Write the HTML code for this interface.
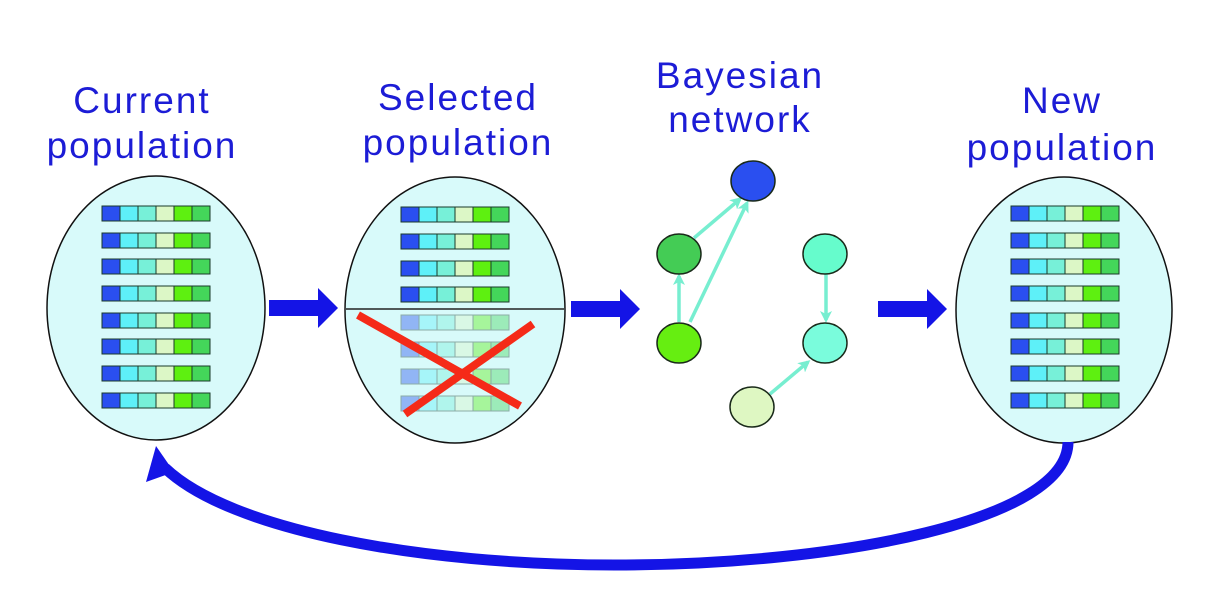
<!DOCTYPE html>
<html><head><meta charset="utf-8"><style>
html,body{margin:0;padding:0;background:#fff;}
svg{display:block}
text{font-family:"Liberation Sans",sans-serif;font-size:37px;fill:#1c1cd6;letter-spacing:2px;text-anchor:middle}
</style></head><body>
<svg width="1218" height="610" viewBox="0 0 1218 610" xmlns="http://www.w3.org/2000/svg">
<defs>
<g id="row">
<rect x="0" y="0" width="18" height="15" fill="#2a4ff0" stroke="#1a3a2a" stroke-width="1"/>
<rect x="18" y="0" width="18" height="15" fill="#5ef0f8" stroke="#1a3a2a" stroke-width="1"/>
<rect x="36" y="0" width="18" height="15" fill="#77f0d8" stroke="#1a3a2a" stroke-width="1"/>
<rect x="54" y="0" width="18" height="15" fill="#dcf7c6" stroke="#1a3a2a" stroke-width="1"/>
<rect x="72" y="0" width="18" height="15" fill="#5ef010" stroke="#1a3a2a" stroke-width="1"/>
<rect x="90" y="0" width="18" height="15" fill="#44d65a" stroke="#1a3a2a" stroke-width="1"/>
</g>
<marker id="ah" markerWidth="12" markerHeight="12" refX="9" refY="6" orient="auto" markerUnits="userSpaceOnUse"><path d="M0,0 L12,6 L0,12 L3,6 Z" fill="#77eed0"/></marker>
</defs>

<text x="142" y="113">Current</text>
<text x="142" y="158">population</text>
<text x="458" y="110">Selected</text>
<text x="458" y="155">population</text>
<text x="740" y="88">Bayesian</text>
<text x="740" y="132">network</text>
<text x="1062" y="113">New</text>
<text x="1062" y="160">population</text>

<ellipse cx="156" cy="308" rx="109" ry="132" fill="#d8fafa" stroke="#111" stroke-width="1.5"/>
<use href="#row" x="102" y="206"/><use href="#row" x="102" y="233"/><use href="#row" x="102" y="259"/><use href="#row" x="102" y="286"/>
<use href="#row" x="102" y="313"/><use href="#row" x="102" y="339"/><use href="#row" x="102" y="366"/><use href="#row" x="102" y="393"/>

<ellipse cx="455" cy="310" rx="110" ry="133" fill="#d8fafa" stroke="#111" stroke-width="1.5"/>
<use href="#row" x="401" y="207"/><use href="#row" x="401" y="234"/><use href="#row" x="401" y="261"/><use href="#row" x="401" y="287"/>
<g opacity="0.4"><use href="#row" x="401" y="315"/><use href="#row" x="401" y="342"/><use href="#row" x="401" y="369"/><use href="#row" x="401" y="396"/></g>
<line x1="346" y1="309" x2="564" y2="309" stroke="#222" stroke-width="1.5"/>
<line x1="358" y1="315" x2="520" y2="406" stroke="#f52a18" stroke-width="8"/>
<line x1="533" y1="324" x2="405" y2="414" stroke="#f52a18" stroke-width="8"/>

<ellipse cx="1064" cy="310" rx="108" ry="133" fill="#d8fafa" stroke="#111" stroke-width="1.5"/>
<use href="#row" x="1011" y="206"/><use href="#row" x="1011" y="233"/><use href="#row" x="1011" y="259"/><use href="#row" x="1011" y="286"/>
<use href="#row" x="1011" y="313"/><use href="#row" x="1011" y="339"/><use href="#row" x="1011" y="366"/><use href="#row" x="1011" y="393"/>

<path d="M269,300 H318 V288 L338,308 L318,328 V316 H269 Z" fill="#1414e6"/>
<path d="M571,301 H620 V289 L640,309 L620,329 V317 H571 Z" fill="#1414e6"/>
<path d="M878,301 H927 V289 L947,309 L927,329 V317 H878 Z" fill="#1414e6"/>

<g stroke="#77eed0" stroke-width="3.5" fill="none" marker-end="url(#ah)">
<line x1="694" y1="238" x2="740" y2="199"/>
<line x1="690" y1="322" x2="747" y2="203"/>
<line x1="679" y1="322" x2="679" y2="276"/>
<line x1="826" y1="274" x2="826" y2="320"/>
<line x1="770" y1="394" x2="808" y2="362"/>
</g>
<g stroke="#1a2a1a" stroke-width="1.5">
<ellipse cx="753" cy="181" rx="22" ry="20" fill="#2a4ff0"/>
<ellipse cx="679" cy="254" rx="22" ry="20" fill="#44cc55"/>
<ellipse cx="679" cy="343" rx="22" ry="20" fill="#66ee11"/>
<ellipse cx="825" cy="254" rx="22" ry="20" fill="#66fccc"/>
<ellipse cx="825" cy="343" rx="22" ry="20" fill="#7afcdc"/>
<ellipse cx="752" cy="407" rx="22" ry="20" fill="#def7c2"/>
</g>

<path d="M1068,442 C1068,520 840,565 615,565 C420,565 230,530 165,468" stroke="#1414e6" stroke-width="11" fill="none"/>
<path d="M156,446 L146,482 L174,472 Z" fill="#1414e6"/>
</svg>
</body></html>
